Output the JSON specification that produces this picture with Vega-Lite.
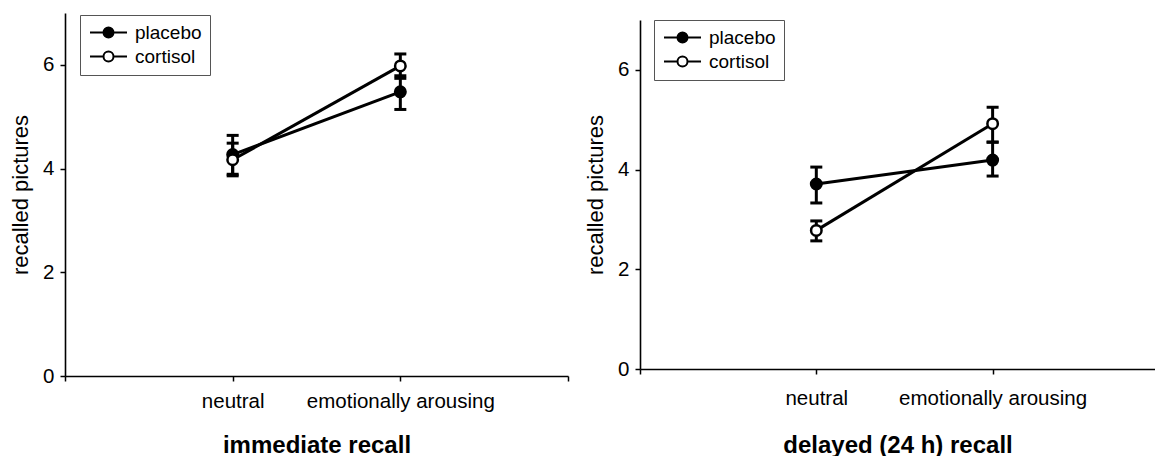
{
  "$schema": "https://vega.github.io/schema/vega-lite/v6.json",
  "background": "white",
  "padding": {"left": 9, "top": 13, "right": 0, "bottom": 0},
  "config": {
    "view": {"stroke": null},
    "font": "Liberation Sans",
    "axis": {
      "grid": false,
      "domainColor": "black",
      "domainWidth": 1.6,
      "tickColor": "black",
      "tickWidth": 1.5,
      "tickSize": 5,
      "labelFont": "Liberation Sans",
      "labelFontSize": 20.5,
      "labelColor": "black",
      "labelLimit": 0,
      "titleFont": "Liberation Sans",
      "titleColor": "black"
    },
    "legend": {
      "orient": "none",
      "title": null,
      "symbolType": "M-3.7,0L-1,0M1,0L3.7,0M1,0A1,1,0,1,1,-1,0A1,1,0,1,1,1,0Z",
      "symbolSize": 100,
      "symbolStrokeColor": "black",
      "symbolStrokeWidth": 2,
      "symbolOpacity": 1,
      "symbolOffset": 11,
      "labelFont": "Liberation Sans",
      "labelFontSize": 19,
      "labelColor": "black",
      "labelOffset": 17,
      "strokeColor": "#555",
      "fillColor": "white",
      "padding": 8,
      "rowPadding": 4
    }
  },
  "data": {
    "values": [
      {"panel": "immediate", "group": "placebo", "pos": 1, "mean": 4.27, "lo": 3.89, "hi": 4.64},
      {"panel": "immediate", "group": "placebo", "pos": 2, "mean": 5.48, "lo": 5.14, "hi": 5.79},
      {"panel": "immediate", "group": "cortisol", "pos": 1, "mean": 4.17, "lo": 3.86, "hi": 4.49},
      {"panel": "immediate", "group": "cortisol", "pos": 2, "mean": 5.98, "lo": 5.74, "hi": 6.21},
      {"panel": "delayed", "group": "placebo", "pos": 1, "mean": 3.71, "lo": 3.33, "hi": 4.05},
      {"panel": "delayed", "group": "placebo", "pos": 2, "mean": 4.19, "lo": 3.87, "hi": 4.55},
      {"panel": "delayed", "group": "cortisol", "pos": 1, "mean": 2.78, "lo": 2.57, "hi": 2.97},
      {"panel": "delayed", "group": "cortisol", "pos": 2, "mean": 4.92, "lo": 4.55, "hi": 5.25}
    ]
  },
  "spacing": 72,
  "bounds": "flush",
  "center": true,
  "resolve": {"scale": {"fill": "independent"}, "legend": {"fill": "independent"}},
  "hconcat": [
    {
      "width": 503,
      "height": 363,
      "transform": [{"filter": "datum.panel == 'immediate'"}],
      "encoding": {
        "x": {
          "field": "pos", "type": "quantitative",
          "scale": {"domain": [0, 3], "nice": false, "zero": false},
          "axis": {
            "values": [0, 1, 2, 3],
            "labelExpr": "datum.value == 1 ? 'neutral' : datum.value == 2 ? 'emotionally arousing' : ''",
            "labelPadding": 10,
            "title": "immediate recall",
            "titleFontSize": 24,
            "titleFontWeight": "bold",
            "titlePadding": 22
          }
        }
      },
      "layer": [
        {
          "mark": {"type": "rule", "color": "black", "strokeWidth": 3},
          "encoding": {
            "y": {"field": "lo", "type": "quantitative", "scale": {"domain": [0, 7], "nice": false},
              "axis": {"values": [0, 2, 4, 6], "format": "d", "title": "recalled pictures", "titleFontSize": 22, "titleFontWeight": "normal", "labelPadding": 6, "titlePadding": 10}},
            "y2": {"field": "hi"}
          }
        },
        {
          "mark": {"type": "tick", "orient": "horizontal", "color": "black", "size": 12, "thickness": 3, "opacity": 1},
          "encoding": {"y": {"field": "lo", "type": "quantitative"}}
        },
        {
          "mark": {"type": "tick", "orient": "horizontal", "color": "black", "size": 12, "thickness": 3, "opacity": 1},
          "encoding": {"y": {"field": "hi", "type": "quantitative"}}
        },
        {
          "mark": {"type": "line", "color": "black", "strokeWidth": 3},
          "encoding": {"y": {"field": "mean", "type": "quantitative"}, "detail": {"field": "group"}}
        },
        {
          "mark": {"type": "point", "shape": "circle", "filled": true, "stroke": "black", "strokeWidth": 2.5, "size": 110, "opacity": 1},
          "encoding": {
            "y": {"field": "mean", "type": "quantitative"},
            "fill": {"field": "group", "type": "nominal", "scale": {"domain": ["placebo", "cortisol"], "range": ["black", "white"]},
              "legend": {"legendX": 15, "legendY": 2}}
          }
        }
      ]
    },
    {
      "width": 515,
      "height": 349,
      "transform": [{"filter": "datum.panel == 'delayed'"}],
      "encoding": {
        "x": {
          "field": "pos", "type": "quantitative",
          "scale": {"domain": [0, 2.921], "nice": false, "zero": false},
          "axis": {
            "values": [0, 1, 2],
            "labelExpr": "datum.value == 1 ? 'neutral' : datum.value == 2 ? 'emotionally arousing' : ''",
            "labelPadding": 14,
            "title": "delayed (24 h) recall",
            "titleFontSize": 24,
            "titleFontWeight": "bold",
            "titlePadding": 25
          }
        }
      },
      "layer": [
        {
          "mark": {"type": "rule", "color": "black", "strokeWidth": 3},
          "encoding": {
            "y": {"field": "lo", "type": "quantitative", "scale": {"domain": [0, 7], "nice": false},
              "axis": {"values": [0, 2, 4, 6], "format": "d", "title": "recalled pictures", "titleFontSize": 22, "titleFontWeight": "normal", "labelPadding": 6, "titlePadding": 10}},
            "y2": {"field": "hi"}
          }
        },
        {
          "mark": {"type": "tick", "orient": "horizontal", "color": "black", "size": 12, "thickness": 3, "opacity": 1},
          "encoding": {"y": {"field": "lo", "type": "quantitative"}}
        },
        {
          "mark": {"type": "tick", "orient": "horizontal", "color": "black", "size": 12, "thickness": 3, "opacity": 1},
          "encoding": {"y": {"field": "hi", "type": "quantitative"}}
        },
        {
          "mark": {"type": "line", "color": "black", "strokeWidth": 3},
          "encoding": {"y": {"field": "mean", "type": "quantitative"}, "detail": {"field": "group"}}
        },
        {
          "mark": {"type": "point", "shape": "circle", "filled": true, "stroke": "black", "strokeWidth": 2.5, "size": 110, "opacity": 1},
          "encoding": {
            "y": {"field": "mean", "type": "quantitative"},
            "fill": {"field": "group", "type": "nominal", "scale": {"domain": ["placebo", "cortisol"], "range": ["black", "white"]},
              "legend": {"legendX": 14, "legendY": 0}}
          }
        }
      ]
    }
  ]
}
